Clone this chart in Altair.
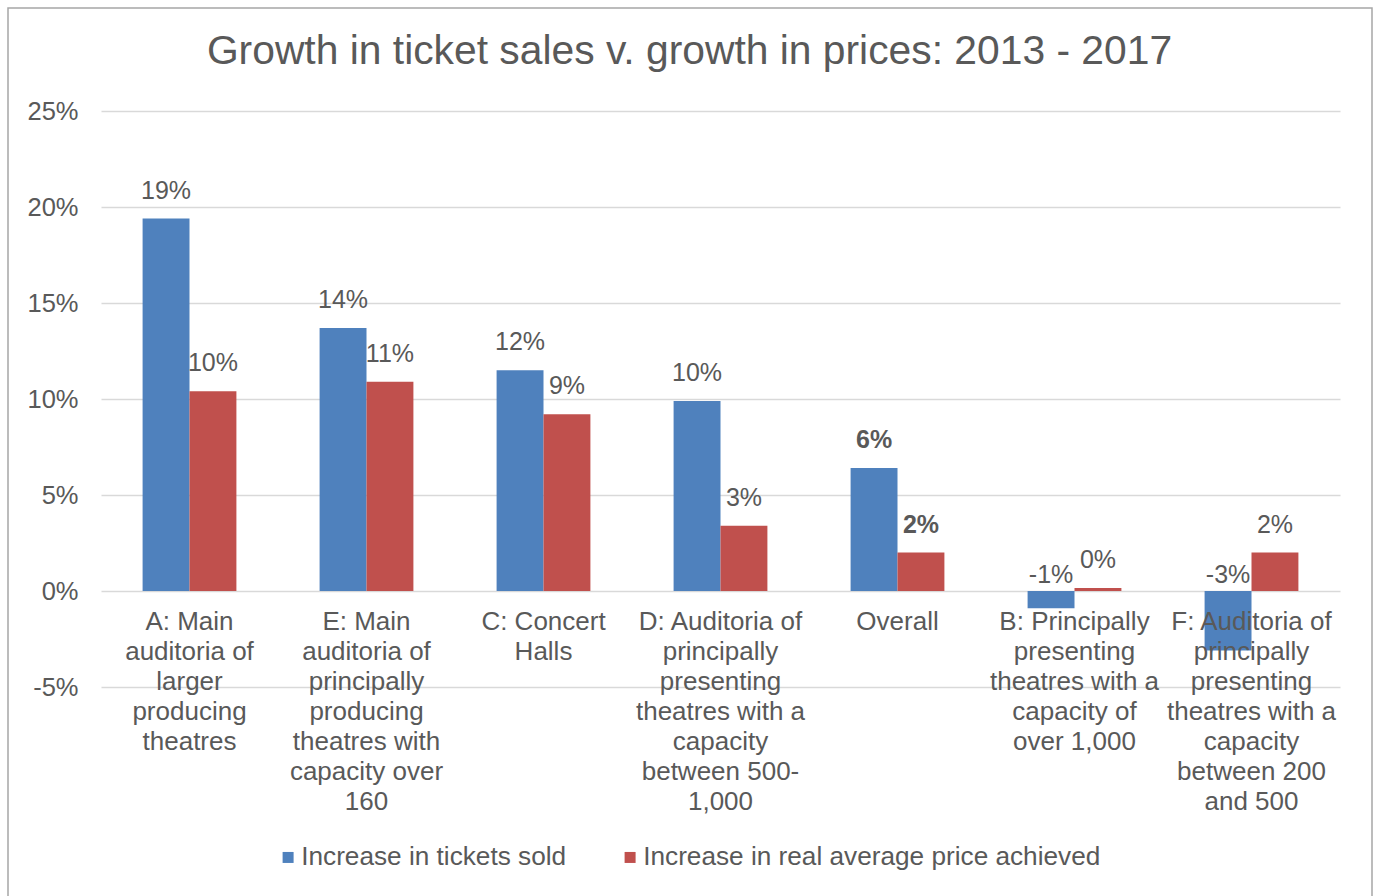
import altair as alt
import pandas as pd

cat_ids = ["A", "E", "C", "D", "Overall", "B", "F"]
cat_labels = [
    "A: Main\nauditoria of\nlarger\nproducing\ntheatres",
    "E: Main\nauditoria of\nprincipally\nproducing\ntheatres with\ncapacity over\n160",
    "C: Concert\nHalls",
    "D: Auditoria of\nprincipally\npresenting\ntheatres with a\ncapacity\nbetween 500-\n1,000",
    "Overall",
    "B: Principally\npresenting\ntheatres with a\ncapacity of\nover 1,000",
    "F: Auditoria of\nprincipally\npresenting\ntheatres with a\ncapacity\nbetween 200\nand 500",
]
tickets_sold = [19.4, 13.7, 11.5, 9.9, 6.4, -0.9, -3.1]
price_increase = [10.4, 10.9, 9.2, 3.4, 2.0, 0.15, 2.0]
series_names = ["Increase in tickets sold", "Increase in real average price achieved"]
series_colors = ["#4F81BD", "#C0504D"]
y_ticks = [-5, 0, 5, 10, 15, 20, 25]

rows = []
for i, c in enumerate(cat_ids):
    rows.append({"cat": c, "series": series_names[0], "value": tickets_sold[i]})
    rows.append({"cat": c, "series": series_names[1], "value": price_increase[i]})
df = pd.DataFrame(rows)
lab_df = pd.DataFrame({"cat": cat_ids, "label": cat_labels})

GRAY = "#595959"
FONT = "Liberation Sans"

x = alt.X("cat:N", sort=cat_ids,
          scale=alt.Scale(paddingInner=0.47, paddingOuter=0.235), axis=None)
xoff = alt.XOffset("series:N", sort=series_names,
                   scale=alt.Scale(paddingInner=0, paddingOuter=0))
y = alt.Y("value:Q",
          scale=alt.Scale(domain=[-5, 25], nice=False, zero=False),
          axis=alt.Axis(values=y_ticks, labelExpr="datum.value + '%'", title=None,
                        domain=False, ticks=False, gridColor="#D9D9D9", gridWidth=1.5,
                        labelFontSize=25.5, labelColor=GRAY, labelPadding=23,
                        labelFont=FONT))
color = alt.Color("series:N",
                  scale=alt.Scale(domain=series_names, range=series_colors),
                  legend=alt.Legend(orient="none", legendX=174, legendY=733,
                                    direction="horizontal", title=None,
                                    symbolType="square", symbolSize=121,
                                    symbolStrokeWidth=0,
                                    labelFontSize=26.2, labelColor=GRAY, labelFont=FONT,
                                    labelLimit=700, columnPadding=50, labelOffset=0))

border = alt.Chart(pd.DataFrame({"d": [0]})).mark_rect(
    fillOpacity=0, stroke="#A6A6A6", strokeWidth=1.5
).encode(x=alt.value(-93), x2=alt.value(1271), y=alt.value(-103), y2=alt.value(795))

bars = alt.Chart(df).mark_bar().encode(x=x, xOffset=xoff, y=y, y2=alt.datum(0), color=color)


def value_labels(flt, weight):
    base = alt.Chart(df).transform_filter(flt).transform_calculate(
        lbl="round(datum.value) + '%'")
    p = base.transform_filter("datum.value >= 0").mark_text(
        baseline="middle", dy=-28, fontSize=25, color=GRAY, font=FONT, fontWeight=weight
    ).encode(x=x, xOffset=xoff, y=y, text="lbl:N")
    n = base.transform_filter("datum.value < 0").mark_text(
        baseline="middle", dy=-16, fontSize=25, color=GRAY, font=FONT, fontWeight=weight
    ).encode(x=x, xOffset=xoff, y=alt.datum(0), text="lbl:N")
    return [p, n]


normal_labels = value_labels("datum.cat != 'Overall'", "normal")
bold_labels = value_labels("datum.cat == 'Overall'", "bold")

cats = alt.Chart(lab_df).mark_text(
    baseline="top", lineBreak="\n", fontSize=26, lineHeight=30, color=GRAY, font=FONT, dy=18
).encode(x=x, y=alt.datum(0), text="label:N")

chart = alt.layer(border, bars, *normal_labels, *bold_labels, cats).properties(
    width=1239, height=576,
    padding={"left": 101, "top": 111, "right": 36, "bottom": 209},
    autosize=alt.AutoSizeParams(type="none"),
    title=alt.TitleParams(text="Growth in ticket sales v. growth in prices: 2013 - 2017",
                          fontSize=40.8, font=FONT, fontWeight="normal", color=GRAY,
                          anchor="middle", dx=-31, offset=-66),
).configure(font=FONT).configure_view(strokeWidth=0)

chart.save("out.html", embed_options={"renderer": "svg", "actions": False})
